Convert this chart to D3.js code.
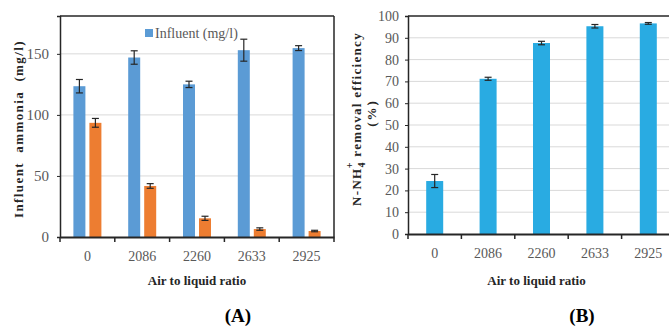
<!DOCTYPE html>
<html>
<head>
<meta charset="utf-8">
<script src="https://cdn.jsdelivr.net/npm/d3@7"></script>
<style>
  body { margin: 0; background: #fff; }
  text { font-family: "Liberation Serif", "DejaVu Serif", serif; }
  .tick text { fill: #595959; font-size: 14px; }
  .axis-title { font-weight: bold; font-size: 13px; fill: #262626; }
  .panel-tag { font-weight: bold; font-size: 19px; fill: #000; }
</style>
</head>
<body>
<div class="chart"></div>
<script>
// Panel A: influent / effluent ammonia, Panel B: removal efficiency

var categories = ["0", "2086", "2260", "2633", "2925"];

var influent = [123.5, 147, 125, 153, 154.7];
var influentErr = [5.5, 5.5, 2.6, 9, 2];
var effluent = [93.5, 41.8, 15.3, 6.5, 4.9];
var effluentErr = [3.6, 1.9, 1.7, 1, 0.6];

var removal = [24.3, 71.2, 87.6, 95.3, 96.6];
var removalErr = [3, 0.7, 0.8, 0.8, 0.4];

var ticksA = [0, 50, 100, 150];
var ticksB = [0, 10, 20, 30, 40, 50, 60, 70, 80, 90, 100];

var svgWidth = 669;
var svgHeight = 326;

var svg = d3.select(".chart")
  .append("svg")
  .attr("width", svgWidth)
  .attr("height", svgHeight);

// ---------- Panel A ----------
var a = { left: 60, right: 334, top: 16, bottom: 237 };

var xA = d3.scaleBand()
  .domain(categories)
  .range([a.left, a.right]);

var yA = d3.scaleLinear()
  .domain([0, 181])
  .range([a.bottom, a.top]);

// gridlines
svg.append("g")
  .selectAll("line")
  .data(ticksA.slice(1))
  .enter()
  .append("line")
  .attr("x1", a.left)
  .attr("x2", a.right)
  .attr("y1", d => yA(d))
  .attr("y2", d => yA(d))
  .attr("stroke", "#d9d9d9")
  .attr("stroke-width", 1);

// frame
svg.append("line")
  .attr("x1", a.left).attr("x2", a.right)
  .attr("y1", a.top).attr("y2", a.top)
  .attr("stroke", "#262626").attr("stroke-width", 1.5);
svg.append("line")
  .attr("x1", a.right).attr("x2", a.right)
  .attr("y1", a.top).attr("y2", a.bottom)
  .attr("stroke", "#262626").attr("stroke-width", 1.5);

var barW = 12;
var gap = 4;

// influent bars
svg.append("g")
  .selectAll("rect")
  .data(influent)
  .enter()
  .append("rect")
  .attr("x", (d, i) => xA(categories[i]) + xA.bandwidth() / 2 - gap / 2 - barW)
  .attr("y", d => yA(d))
  .attr("width", barW)
  .attr("height", d => yA(0) - yA(d))
  .attr("fill", "#5b9bd5");

// effluent bars
svg.append("g")
  .selectAll("rect")
  .data(effluent)
  .enter()
  .append("rect")
  .attr("x", (d, i) => xA(categories[i]) + xA.bandwidth() / 2 + gap / 2)
  .attr("y", d => yA(d))
  .attr("width", barW)
  .attr("height", d => yA(0) - yA(d))
  .attr("fill", "#ed7d31");

function errorBars(group, values, errs, xCenter, yScale, capW) {
  var g = group.append("g")
    .attr("stroke", "#262626")
    .attr("stroke-width", 1.2);
  values.forEach(function(v, i) {
    var cx = xCenter(i);
    var y1 = yScale(v + errs[i]);
    var y2 = yScale(v - errs[i]);
    g.append("line").attr("x1", cx).attr("x2", cx).attr("y1", y1).attr("y2", y2);
    g.append("line").attr("x1", cx - capW / 2).attr("x2", cx + capW / 2).attr("y1", y1).attr("y2", y1);
    g.append("line").attr("x1", cx - capW / 2).attr("x2", cx + capW / 2).attr("y1", y2).attr("y2", y2);
  });
}

errorBars(svg, influent, influentErr,
  i => xA(categories[i]) + xA.bandwidth() / 2 - gap / 2 - barW / 2, yA, 7);
errorBars(svg, effluent, effluentErr,
  i => xA(categories[i]) + xA.bandwidth() / 2 + gap / 2 + barW / 2, yA, 7);

// axes
var leftA = svg.append("g")
  .attr("transform", `translate(${a.left}, 0)`)
  .call(d3.axisLeft(yA).tickValues(ticksA).tickSize(3).tickPadding(8));
leftA.select(".domain").attr("stroke", "#262626").attr("stroke-width", 1.5);
leftA.selectAll(".tick line").attr("stroke", "#262626");
leftA.selectAll(".tick text").style("font-size", "15px");

var bottomA = svg.append("g")
  .attr("transform", `translate(0, ${a.bottom})`)
  .call(d3.axisBottom(xA).tickSize(0).tickPadding(14));
bottomA.select(".domain").attr("stroke", "#262626").attr("stroke-width", 2);
bottomA.selectAll(".tick text").attr("dy", "0.71em");

svg.append("g")
  .selectAll("line")
  .data(categories.concat(["end"]))
  .enter()
  .append("line")
  .attr("x1", (d, i) => a.left + i * xA.bandwidth())
  .attr("x2", (d, i) => a.left + i * xA.bandwidth())
  .attr("y1", a.bottom)
  .attr("y2", a.bottom + 5)
  .attr("stroke", "#262626")
  .attr("stroke-width", 1.5);

// legend
svg.append("rect")
  .attr("x", 145).attr("y", 29)
  .attr("width", 8).attr("height", 8)
  .attr("fill", "#5b9bd5");
svg.append("text")
  .attr("x", 155).attr("y", 38)
  .attr("font-size", 14)
  .attr("fill", "#595959")
  .text("Influent (mg/l)");

// axis titles
svg.append("text")
  .attr("class", "axis-title")
  .attr("transform", `translate(23, 129) rotate(-90)`)
  .attr("text-anchor", "middle")
  .attr("font-size", 16)
  .style("letter-spacing", "1.4px")
  .style("white-space", "pre")
  .text("Influent  ammonia  (mg/l)");

svg.append("text")
  .attr("class", "axis-title")
  .attr("x", (a.left + a.right) / 2)
  .attr("y", 285)
  .attr("text-anchor", "middle")
  .text("Air to liquid ratio");

svg.append("text")
  .attr("class", "panel-tag")
  .attr("x", 238)
  .attr("y", 322)
  .attr("text-anchor", "middle")
  .text("(A)");

// ---------- Panel B ----------
var b = { left: 408, right: 675, top: 16, bottom: 234 };

var xB = d3.scaleBand()
  .domain(categories)
  .range([b.left, b.right]);

var yB = d3.scaleLinear()
  .domain([0, 100])
  .range([b.bottom, b.top]);

svg.append("g")
  .selectAll("line")
  .data(ticksB.slice(1, -1))
  .enter()
  .append("line")
  .attr("x1", b.left)
  .attr("x2", b.right)
  .attr("y1", d => yB(d))
  .attr("y2", d => yB(d))
  .attr("stroke", "#d9d9d9")
  .attr("stroke-width", 1);

svg.append("line")
  .attr("x1", b.left).attr("x2", b.right)
  .attr("y1", b.top).attr("y2", b.top)
  .attr("stroke", "#262626").attr("stroke-width", 1.5);

var barWB = 17;

svg.append("g")
  .selectAll("rect")
  .data(removal)
  .enter()
  .append("rect")
  .attr("x", (d, i) => xB(categories[i]) + xB.bandwidth() / 2 - barWB / 2)
  .attr("y", d => yB(d))
  .attr("width", barWB)
  .attr("height", d => yB(0) - yB(d))
  .attr("fill", "#29abe2");

errorBars(svg, removal, removalErr,
  i => xB(categories[i]) + xB.bandwidth() / 2, yB, 7);

var leftB = svg.append("g")
  .attr("transform", `translate(${b.left}, 0)`)
  .call(d3.axisLeft(yB).tickValues(ticksB).tickSize(3).tickPadding(6));
leftB.select(".domain").attr("stroke", "#262626").attr("stroke-width", 1.5);
leftB.selectAll(".tick line").attr("stroke", "#262626");

var bottomB = svg.append("g")
  .attr("transform", `translate(0, ${b.bottom})`)
  .call(d3.axisBottom(xB).tickSize(0).tickPadding(14));
bottomB.select(".domain").attr("stroke", "#262626").attr("stroke-width", 2);
bottomB.selectAll(".tick text").attr("dy", "0.71em");

svg.append("g")
  .selectAll("line")
  .data(categories)
  .enter()
  .append("line")
  .attr("x1", (d, i) => b.left + i * xB.bandwidth())
  .attr("x2", (d, i) => b.left + i * xB.bandwidth())
  .attr("y1", b.bottom)
  .attr("y2", b.bottom + 5)
  .attr("stroke", "#262626")
  .attr("stroke-width", 1.5);

// y title, two lines
var yTitleB = svg.append("text")
  .attr("class", "axis-title")
  .attr("transform", `translate(361, 119) rotate(-90)`)
  .attr("text-anchor", "middle")
  .attr("font-size", 16)
  .style("letter-spacing", "1.3px");
yTitleB.append("tspan").text("N-NH");
yTitleB.append("tspan").attr("font-size", 10).attr("dy", 4).text("4");
yTitleB.append("tspan").attr("font-size", 10).attr("dy", -12).attr("dx", -7).text("+");
yTitleB.append("tspan").attr("dy", 8).text(" removal efficiency");

svg.append("text")
  .attr("class", "axis-title")
  .attr("transform", `translate(376, 113) rotate(-90)`)
  .attr("text-anchor", "middle")
  .attr("font-size", 16)
  .style("letter-spacing", "2px")
  .text("(%)");

svg.append("text")
  .attr("class", "axis-title")
  .attr("x", (b.left + b.right - 10) / 2)
  .attr("y", 285)
  .attr("text-anchor", "middle")
  .text("Air to liquid ratio");

svg.append("text")
  .attr("class", "panel-tag")
  .attr("x", 582)
  .attr("y", 322)
  .attr("text-anchor", "middle")
  .text("(B)");
</script>
</body>
</html>
